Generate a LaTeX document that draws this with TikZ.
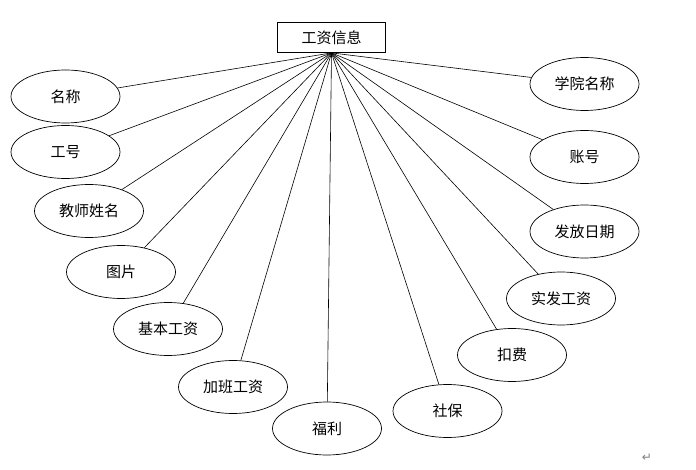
\documentclass[tikz,border=0pt]{standalone}
\usepackage{fontspec}
\newfontfamily\cjk{Noto Sans CJK SC}
\newfontfamily\dejavu{DejaVu Sans}
\usetikzlibrary{shapes.geometric}
\begin{document}
\begin{tikzpicture}[x=1pt,y=-1pt,
  attr/.style={draw, line width=0.7pt, ellipse, minimum width=109pt, minimum height=53pt, inner sep=0pt, font=\cjk\fontsize{15}{17}\selectfont},
  ent/.style={draw, line width=0.8pt, rectangle, minimum width=108pt, minimum height=30pt, inner sep=0pt, font=\cjk\fontsize{15}{17}\selectfont},
  link/.style={line width=0.6pt}]
\useasboundingbox (0,0) rectangle (696,470);
\node[ent] (top) at (331.5,37.5) {工资信息};
\node[attr] (a1) at (65.5,96.5) {名称};
\node[attr] (a2) at (65.5,152) {工号};
\node[attr] (a3) at (89,211) {教师姓名};
\node[attr] (a4) at (121,272) {图片};
\node[attr] (a5) at (168,329) {基本工资};
\node[attr] (a6) at (233,387) {加班工资};
\node[attr] (a7) at (327,428.5) {福利};
\node[attr] (a8) at (447.5,411) {社保};
\node[attr] (a9) at (512,355) {扣费};
\node[attr] (a10) at (561,298.5) {实发工资};
\node[attr] (a11) at (584.5,231.5) {发放日期};
\node[attr] (a12) at (584.5,157) {账号};
\node[attr] (a13) at (584.5,84) {学院名称};
\foreach \i in {1,...,13} \draw[link] (top.south) -- (a\i);
\node[font=\dejavu\fontsize{12}{14}\selectfont, text=gray, inner sep=0pt] (ret) at (647,458) {↵};
\end{tikzpicture}
\end{document}
